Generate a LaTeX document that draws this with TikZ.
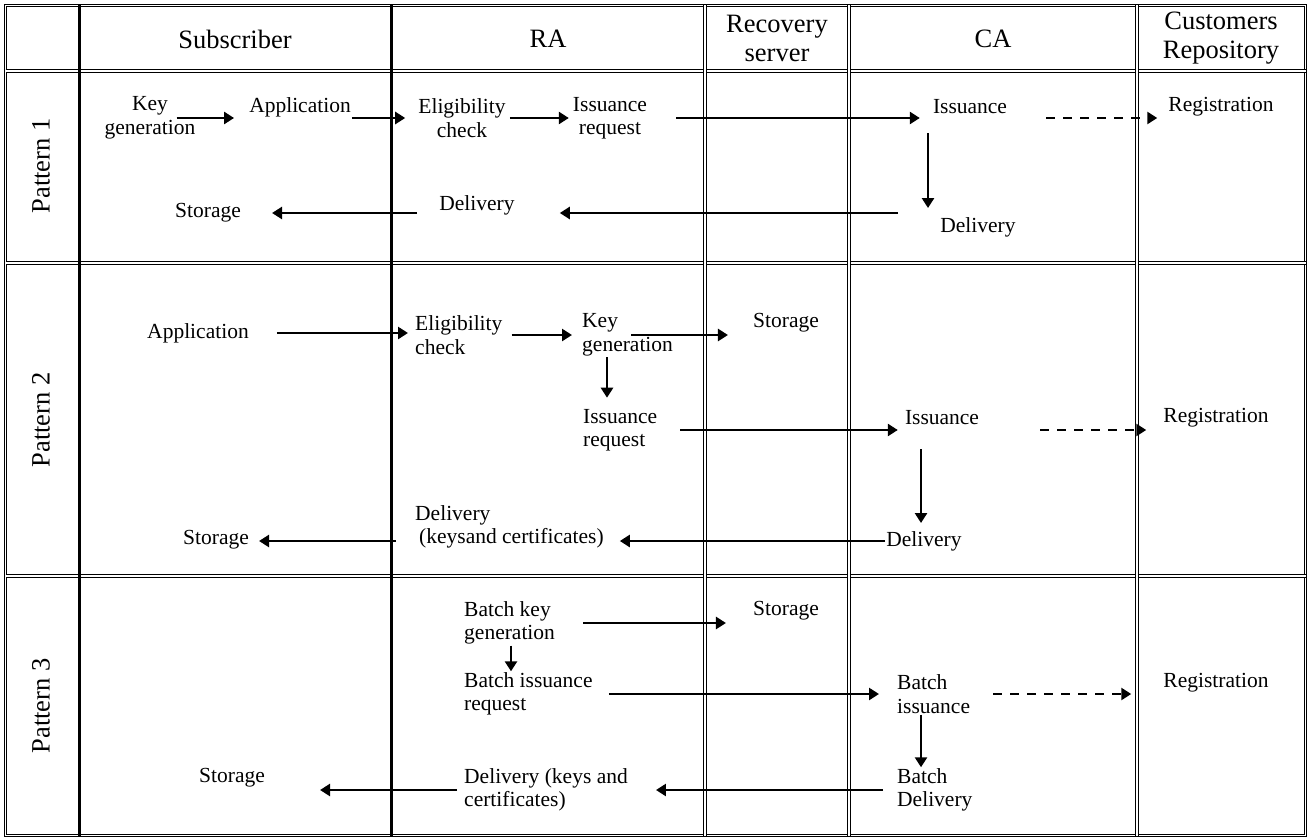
\documentclass[tikz,border=0pt]{standalone}
\usepackage{fontspec}
\setmainfont{Liberation Serif}
\usetikzlibrary{arrows.meta}

\tikzset{
  rule/.style={line width=1.2pt, double, double distance=1.3pt},
  bar/.style={line width=3pt},
  head/.style={font=\fontsize{26.5}{29}\selectfont, align=center},
  lbl/.style={inner sep=1pt, font=\fontsize{21.5}{23.5}\selectfont, align=left},
  clbl/.style={lbl, align=center},
  flow/.style={line width=2.5pt, -{Triangle[length=10pt,width=12pt]}},
  opt/.style={flow, dash pattern=on 9pt off 8pt},
}

\begin{document}
\begin{tikzpicture}[x=1pt,y=-1pt]
\useasboundingbox (0,0) rectangle (1311,840);
\draw[rule] (5.5,5.5) rectangle (1305.5,835.5);
\foreach \y in {71,263,576} \draw[rule] (5.5,\y) -- (1305.5,\y);
\foreach \x in {705,849,1137} \draw[rule] (\x,5.5) -- (\x,835.5);
\foreach \x in {79,391} \draw[bar] (\x,5.5) -- (\x,835.5);

\node[head] (subscriber) at (235,39) {Subscriber};
\node[head] (ra) at (548,39) {RA};
\node[head] (recovery) at (777,38) {Recovery\\server};
\node[head] (ca) at (993,39) {CA};
\node[head] (repo) at (1221,38) {Customers\\Repository};
\node[head, rotate=90] (p1) at (41,166) {Pattern 1};
\node[head, rotate=90] (p2) at (41,420) {Pattern 2};
\node[head, rotate=90] (p3) at (41,706) {Pattern 3};

\node[clbl] (keygen1) at (150,118) {Key\\generation};
\node[lbl] (app1) at (300,107) {Application};
\node[clbl] (elig1) at (462,118) {Eligibility\\check};
\node[clbl] (isreq1) at (610,118) {Issuance\\request};
\node[lbl] (iss1) at (970,107) {Issuance};
\node[lbl] (reg1) at (1221,107) {Registration};
\node[lbl] (cadel1) at (978,227) {Delivery};
\node[lbl] (radel1) at (477,205) {Delivery};
\node[lbl] (sto1) at (208,213) {Storage};

\draw[flow, shorten >=14pt] ([xshift=-20pt]keygen1.east) -- (keygen1.east -| app1.west);
\draw[flow, shorten >=12pt] (elig1.west -| app1.east) -- (elig1.west);
\draw[flow, shorten <=3pt, shorten >=3pt] (elig1.east) -- (isreq1.west);
\draw[flow, shorten <=28pt, shorten >=12pt] (isreq1.east) -- (isreq1.east -| iss1.west);
\draw[opt, shorten <=38pt, shorten >=10pt] (isreq1.east -| iss1.east) -- (isreq1.east -| reg1.west);
\draw[flow, shorten <=18pt, shorten >=8pt] ([xshift=-42pt]iss1.south) -- ([xshift=-42pt]iss1.south |- cadel1.north);
\draw[flow, shorten <=41pt, shorten >=44pt] (sto1.east -| cadel1.west) -- (sto1.east -| radel1.east);
\draw[flow, shorten <=21pt, shorten >=30pt] (sto1.east -| radel1.west) -- (sto1.east);

\node[lbl] (app2) at (198,333) {Application};
\node[lbl, anchor=west] (elig2) at (414,335) {Eligibility\\check};
\node[lbl, anchor=west] (keygen2) at (581,335) {Key\\generation};
\node[lbl] (sto2r) at (786,323) {Storage};
\node[lbl, anchor=west] (isreq2) at (582,430) {Issuance\\request};
\node[lbl] (iss2) at (942,418) {Issuance};
\node[lbl] (reg2) at (1216,418) {Registration};
\node[lbl] (cadel2) at (924,541) {Delivery};
\node[lbl, anchor=west] (radel2) at (414,527) {Delivery\\\hspace{4pt}(keysand certificates)};
\node[lbl] (sto2) at (216,540) {Storage};

\draw[flow, shorten <=27pt, shorten >=6pt] (app2.east) -- (app2.east -| elig2.west);
\draw[flow, shorten <=8pt, shorten >=9pt] (elig2.east) -- (elig2.east -| keygen2.west);
\draw[flow, shorten <=50pt, shorten >=24pt] (keygen2.west) -- (keygen2.west -| sto2r.west);
\draw[flow, shorten >=10pt] ([xshift=26pt]keygen2.south west) -- ([xshift=26pt]keygen2.south west |- isreq2.north);
\draw[flow, shorten <=22pt, shorten >=6pt] (isreq2.east) -- (isreq2.east -| iss2.west);
\draw[opt, shorten <=60pt, shorten >=16pt] (isreq2.east -| iss2.east) -- (isreq2.east -| reg2.west);
\draw[flow, shorten <=23pt, shorten >=7pt] ([xshift=-21pt]iss2.south) -- ([xshift=-21pt]iss2.south |- cadel2.north);
\draw[flow, shorten >=15pt] (cadel2.west) -- (cadel2.west -| radel2.east);
\draw[flow, shorten <=18pt, shorten >=9pt] (cadel2.west -| radel2.west) -- (cadel2.west -| sto2.east);

\node[lbl, anchor=west] (bkg) at (463,623) {Batch key\\generation};
\node[lbl] (sto3r) at (786,611) {Storage};
\node[lbl, anchor=west] (bir) at (463,694) {Batch issuance\\request};
\node[lbl, anchor=west] (bis) at (896,694) {Batch\\issuance};
\node[lbl] (reg3) at (1216,683) {Registration};
\node[lbl, anchor=west] (bdel) at (896,790) {Batch\\Delivery};
\node[lbl, anchor=west] (radel3) at (463,790) {Delivery (keys and\\certificates)};
\node[lbl] (sto3) at (232,778) {Storage};

\draw[flow, shorten <=27pt, shorten >=26pt] (bkg.east) -- (bkg.east -| sto3r.west);
\draw[flow] ([xshift=48pt]bkg.south west) -- ([xshift=48pt]bkg.south west |- bir.north);
\draw[flow, shorten <=15pt, shorten >=17pt] (bir.east) -- (bir.east -| bis.west);
\draw[opt, shorten <=22pt, shorten >=31pt] (bis.east) -- (bis.east -| reg3.west);
\draw[flow] ([xshift=25pt]bis.south west) -- ([xshift=25pt]bis.south west |- bdel.north);
\draw[flow, shorten <=13pt, shorten >=27pt] (bdel.west) -- (bdel.west -| radel3.east);
\draw[flow, shorten <=6pt, shorten >=54pt] (bdel.west -| radel3.west) -- (bdel.west -| sto3.east);
\end{tikzpicture}
\end{document}
